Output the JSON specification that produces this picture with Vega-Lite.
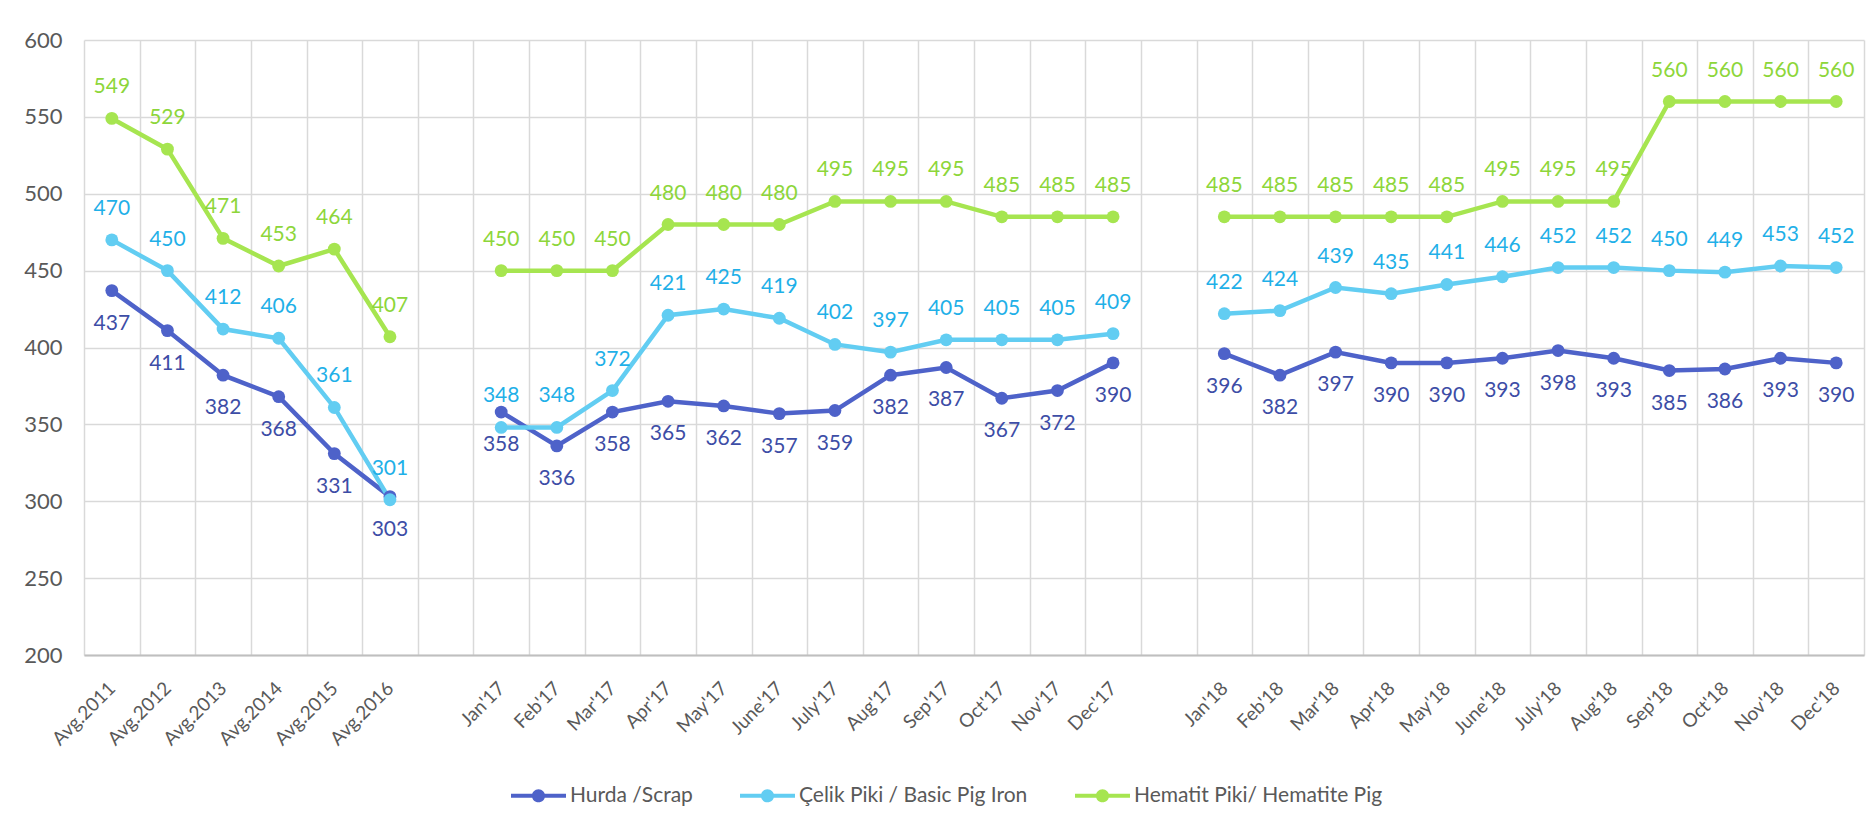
{
  "$schema": "https://vega.github.io/schema/vega-lite/v6.json",
  "width": 1780,
  "height": 615,
  "autosize": {"type": "none"},
  "padding": {"left": 84, "top": 40, "right": 10, "bottom": 172},
  "background": "white",
  "config": {
    "view": {"stroke": null},
    "font": "Lato",
    "axis": {"labelFont": "Lato", "labelColor": "#595959", "gridColor": "#D9D9D9", "gridWidth": 1.5, "ticks": false, "title": null}
  },
  "datasets": {
    "d": [
      {"c": "Avg.2011", "s": "Hurda /Scrap", "g": "A", "v": 437},
      {"c": "Avg.2012", "s": "Hurda /Scrap", "g": "A", "v": 411},
      {"c": "Avg.2013", "s": "Hurda /Scrap", "g": "A", "v": 382},
      {"c": "Avg.2014", "s": "Hurda /Scrap", "g": "A", "v": 368},
      {"c": "Avg.2015", "s": "Hurda /Scrap", "g": "A", "v": 331},
      {"c": "Avg.2016", "s": "Hurda /Scrap", "g": "A", "v": 303},
      {"c": "Jan'17", "s": "Hurda /Scrap", "g": "B", "v": 358},
      {"c": "Feb'17", "s": "Hurda /Scrap", "g": "B", "v": 336},
      {"c": "Mar'17", "s": "Hurda /Scrap", "g": "B", "v": 358},
      {"c": "Apr'17", "s": "Hurda /Scrap", "g": "B", "v": 365},
      {"c": "May'17", "s": "Hurda /Scrap", "g": "B", "v": 362},
      {"c": "June'17", "s": "Hurda /Scrap", "g": "B", "v": 357},
      {"c": "July'17", "s": "Hurda /Scrap", "g": "B", "v": 359},
      {"c": "Aug'17", "s": "Hurda /Scrap", "g": "B", "v": 382},
      {"c": "Sep'17", "s": "Hurda /Scrap", "g": "B", "v": 387},
      {"c": "Oct'17", "s": "Hurda /Scrap", "g": "B", "v": 367},
      {"c": "Nov'17", "s": "Hurda /Scrap", "g": "B", "v": 372},
      {"c": "Dec'17", "s": "Hurda /Scrap", "g": "B", "v": 390},
      {"c": "Jan'18", "s": "Hurda /Scrap", "g": "C", "v": 396},
      {"c": "Feb'18", "s": "Hurda /Scrap", "g": "C", "v": 382},
      {"c": "Mar'18", "s": "Hurda /Scrap", "g": "C", "v": 397},
      {"c": "Apr'18", "s": "Hurda /Scrap", "g": "C", "v": 390},
      {"c": "May'18", "s": "Hurda /Scrap", "g": "C", "v": 390},
      {"c": "June'18", "s": "Hurda /Scrap", "g": "C", "v": 393},
      {"c": "July'18", "s": "Hurda /Scrap", "g": "C", "v": 398},
      {"c": "Aug'18", "s": "Hurda /Scrap", "g": "C", "v": 393},
      {"c": "Sep'18", "s": "Hurda /Scrap", "g": "C", "v": 385},
      {"c": "Oct'18", "s": "Hurda /Scrap", "g": "C", "v": 386},
      {"c": "Nov'18", "s": "Hurda /Scrap", "g": "C", "v": 393},
      {"c": "Dec'18", "s": "Hurda /Scrap", "g": "C", "v": 390},
      {"c": "Avg.2011", "s": "Çelik Piki / Basic Pig Iron", "g": "A", "v": 470},
      {"c": "Avg.2012", "s": "Çelik Piki / Basic Pig Iron", "g": "A", "v": 450},
      {"c": "Avg.2013", "s": "Çelik Piki / Basic Pig Iron", "g": "A", "v": 412},
      {"c": "Avg.2014", "s": "Çelik Piki / Basic Pig Iron", "g": "A", "v": 406},
      {"c": "Avg.2015", "s": "Çelik Piki / Basic Pig Iron", "g": "A", "v": 361},
      {"c": "Avg.2016", "s": "Çelik Piki / Basic Pig Iron", "g": "A", "v": 301},
      {"c": "Jan'17", "s": "Çelik Piki / Basic Pig Iron", "g": "B", "v": 348},
      {"c": "Feb'17", "s": "Çelik Piki / Basic Pig Iron", "g": "B", "v": 348},
      {"c": "Mar'17", "s": "Çelik Piki / Basic Pig Iron", "g": "B", "v": 372},
      {"c": "Apr'17", "s": "Çelik Piki / Basic Pig Iron", "g": "B", "v": 421},
      {"c": "May'17", "s": "Çelik Piki / Basic Pig Iron", "g": "B", "v": 425},
      {"c": "June'17", "s": "Çelik Piki / Basic Pig Iron", "g": "B", "v": 419},
      {"c": "July'17", "s": "Çelik Piki / Basic Pig Iron", "g": "B", "v": 402},
      {"c": "Aug'17", "s": "Çelik Piki / Basic Pig Iron", "g": "B", "v": 397},
      {"c": "Sep'17", "s": "Çelik Piki / Basic Pig Iron", "g": "B", "v": 405},
      {"c": "Oct'17", "s": "Çelik Piki / Basic Pig Iron", "g": "B", "v": 405},
      {"c": "Nov'17", "s": "Çelik Piki / Basic Pig Iron", "g": "B", "v": 405},
      {"c": "Dec'17", "s": "Çelik Piki / Basic Pig Iron", "g": "B", "v": 409},
      {"c": "Jan'18", "s": "Çelik Piki / Basic Pig Iron", "g": "C", "v": 422},
      {"c": "Feb'18", "s": "Çelik Piki / Basic Pig Iron", "g": "C", "v": 424},
      {"c": "Mar'18", "s": "Çelik Piki / Basic Pig Iron", "g": "C", "v": 439},
      {"c": "Apr'18", "s": "Çelik Piki / Basic Pig Iron", "g": "C", "v": 435},
      {"c": "May'18", "s": "Çelik Piki / Basic Pig Iron", "g": "C", "v": 441},
      {"c": "June'18", "s": "Çelik Piki / Basic Pig Iron", "g": "C", "v": 446},
      {"c": "July'18", "s": "Çelik Piki / Basic Pig Iron", "g": "C", "v": 452},
      {"c": "Aug'18", "s": "Çelik Piki / Basic Pig Iron", "g": "C", "v": 452},
      {"c": "Sep'18", "s": "Çelik Piki / Basic Pig Iron", "g": "C", "v": 450},
      {"c": "Oct'18", "s": "Çelik Piki / Basic Pig Iron", "g": "C", "v": 449},
      {"c": "Nov'18", "s": "Çelik Piki / Basic Pig Iron", "g": "C", "v": 453},
      {"c": "Dec'18", "s": "Çelik Piki / Basic Pig Iron", "g": "C", "v": 452},
      {"c": "Avg.2011", "s": "Hematit Piki/ Hematite Pig", "g": "A", "v": 549},
      {"c": "Avg.2012", "s": "Hematit Piki/ Hematite Pig", "g": "A", "v": 529},
      {"c": "Avg.2013", "s": "Hematit Piki/ Hematite Pig", "g": "A", "v": 471},
      {"c": "Avg.2014", "s": "Hematit Piki/ Hematite Pig", "g": "A", "v": 453},
      {"c": "Avg.2015", "s": "Hematit Piki/ Hematite Pig", "g": "A", "v": 464},
      {"c": "Avg.2016", "s": "Hematit Piki/ Hematite Pig", "g": "A", "v": 407},
      {"c": "Jan'17", "s": "Hematit Piki/ Hematite Pig", "g": "B", "v": 450},
      {"c": "Feb'17", "s": "Hematit Piki/ Hematite Pig", "g": "B", "v": 450},
      {"c": "Mar'17", "s": "Hematit Piki/ Hematite Pig", "g": "B", "v": 450},
      {"c": "Apr'17", "s": "Hematit Piki/ Hematite Pig", "g": "B", "v": 480},
      {"c": "May'17", "s": "Hematit Piki/ Hematite Pig", "g": "B", "v": 480},
      {"c": "June'17", "s": "Hematit Piki/ Hematite Pig", "g": "B", "v": 480},
      {"c": "July'17", "s": "Hematit Piki/ Hematite Pig", "g": "B", "v": 495},
      {"c": "Aug'17", "s": "Hematit Piki/ Hematite Pig", "g": "B", "v": 495},
      {"c": "Sep'17", "s": "Hematit Piki/ Hematite Pig", "g": "B", "v": 495},
      {"c": "Oct'17", "s": "Hematit Piki/ Hematite Pig", "g": "B", "v": 485},
      {"c": "Nov'17", "s": "Hematit Piki/ Hematite Pig", "g": "B", "v": 485},
      {"c": "Dec'17", "s": "Hematit Piki/ Hematite Pig", "g": "B", "v": 485},
      {"c": "Jan'18", "s": "Hematit Piki/ Hematite Pig", "g": "C", "v": 485},
      {"c": "Feb'18", "s": "Hematit Piki/ Hematite Pig", "g": "C", "v": 485},
      {"c": "Mar'18", "s": "Hematit Piki/ Hematite Pig", "g": "C", "v": 485},
      {"c": "Apr'18", "s": "Hematit Piki/ Hematite Pig", "g": "C", "v": 485},
      {"c": "May'18", "s": "Hematit Piki/ Hematite Pig", "g": "C", "v": 485},
      {"c": "June'18", "s": "Hematit Piki/ Hematite Pig", "g": "C", "v": 495},
      {"c": "July'18", "s": "Hematit Piki/ Hematite Pig", "g": "C", "v": 495},
      {"c": "Aug'18", "s": "Hematit Piki/ Hematite Pig", "g": "C", "v": 495},
      {"c": "Sep'18", "s": "Hematit Piki/ Hematite Pig", "g": "C", "v": 560},
      {"c": "Oct'18", "s": "Hematit Piki/ Hematite Pig", "g": "C", "v": 560},
      {"c": "Nov'18", "s": "Hematit Piki/ Hematite Pig", "g": "C", "v": 560},
      {"c": "Dec'18", "s": "Hematit Piki/ Hematite Pig", "g": "C", "v": 560}
    ]
  },
  "data": {"name": "d"},
  "encoding": {
    "x": {
      "field": "c", "type": "nominal", "sort": null, "bandPosition": 0.5,
      "scale": {"type": "band", "paddingInner": 0, "paddingOuter": 0,
        "domain": ["Avg.2011","Avg.2012","Avg.2013","Avg.2014","Avg.2015","Avg.2016"," ","Jan'17","Feb'17","Mar'17","Apr'17","May'17","June'17","July'17","Aug'17","Sep'17","Oct'17","Nov'17","Dec'17","  ","Jan'18","Feb'18","Mar'18","Apr'18","May'18","June'18","July'18","Aug'18","Sep'18","Oct'18","Nov'18","Dec'18"]},
      "axis": {"tickBand": "extent", "grid": true, "labelAngle": -45, "labelAlign": "right", "labelBaseline": "middle", "labelFontSize": 19, "labelPadding": 30, "domainColor": "#BFBFBF", "domainWidth": 2}
    },
    "y": {
      "field": "v", "type": "quantitative",
      "scale": {"domain": [200, 600], "nice": false, "zero": false},
      "axis": {"values": [200,250,300,350,400,450,500,550,600], "labelFontSize": 22, "labelPadding": 22, "domain": false, "grid": true}
    }
  },
  "layer": [
    {
      "mark": {"type": "line", "strokeWidth": 4.5},
      "encoding": {
        "color": {"field": "s", "type": "nominal",
          "scale": {"domain": ["Hurda /Scrap", "Çelik Piki / Basic Pig Iron", "Hematit Piki/ Hematite Pig"], "range": ["#4E62C9", "#62CDF2", "#A6E550"]},
          "legend": {
            "title": null, "orient": "none", "legendX": 427, "legendY": 728, "direction": "horizontal",
            "labelFontSize": 21, "labelColor": "#595959", "labelFont": "Lato", "labelLimit": 500, "columnPadding": 47, "labelOffset": 4,
            "symbolType": "M-1,-0.075H-0.2V0.075H-1Z M0.2,-0.075H1V0.075H0.2Z M-0.24,0A0.24,0.24 0 1,1 0.24,0A0.24,0.24 0 1,1 -0.24,0Z",
            "symbolSize": 3025, "symbolStrokeWidth": 0,
            "encode": {"symbols": {"update": {"fill": {"scale": "color", "field": "value"}, "strokeWidth": {"value": 0}, "fillOpacity": {"value": 1}}}}
          }
        },
        "detail": {"field": "g"}
      }
    },
    {
      "mark": {"type": "point", "filled": true, "size": 165, "opacity": 1},
      "encoding": {
        "color": {"field": "s", "type": "nominal"},
        "detail": {"field": "g"}
      }
    },
    {
      "transform": [{"filter": "datum.s === 'Hurda /Scrap'"}],
      "mark": {"type": "text", "dy": 33, "fontSize": 21, "color": "#3D4DA6", "font": "Lato"},
      "encoding": {"text": {"field": "v", "type": "quantitative"}}
    },
    {
      "transform": [{"filter": "datum.s === 'Çelik Piki / Basic Pig Iron'"}],
      "mark": {"type": "text", "dy": -31, "fontSize": 21, "color": "#1FB0E8", "font": "Lato"},
      "encoding": {"text": {"field": "v", "type": "quantitative"}}
    },
    {
      "transform": [{"filter": "datum.s === 'Hematit Piki/ Hematite Pig'"}],
      "mark": {"type": "text", "dy": -31, "fontSize": 21, "color": "#8DD63A", "font": "Lato"},
      "encoding": {"text": {"field": "v", "type": "quantitative"}}
    }
  ]
}
